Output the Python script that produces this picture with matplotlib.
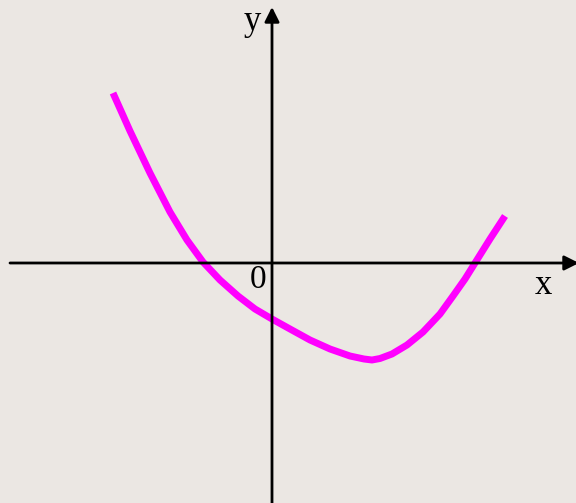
import matplotlib.pyplot as plt

# curve points (math units, origin at the axes crossing)
curve_x = [-3.18, -2.84, -2.44, -2.04, -1.70, -1.38, -1.04, -0.68, -0.34, 0.00,
           0.36, 0.76, 1.16, 1.56, 1.84, 2.00, 2.16, 2.40, 2.70, 3.02, 3.36,
           3.62, 3.86, 4.06, 4.36, 4.66]
curve_y = [3.40, 2.64, 1.80, 1.02, 0.46, 0.02, -0.34, -0.66, -0.92, -1.12,
           -1.32, -1.54, -1.72, -1.86, -1.92, -1.94, -1.91, -1.82, -1.64, -1.38, -1.02,
           -0.66, -0.32, 0.00, 0.48, 0.94]

bg = '#ebe7e3'


def main():
    fig = plt.figure(figsize=(5.76, 5.03), dpi=100, facecolor=bg)
    ax = fig.add_axes([0, 0, 1, 1])
    ax.set_facecolor(bg)
    ax.set_xlim(-5.44, 6.08)
    ax.set_ylim(-4.8, 5.26)
    ax.axis('off')

    arrow = dict(arrowstyle='-|>', lw=2, color='black', mutation_scale=22,
                 shrinkA=0, shrinkB=0)
    ax.annotate('', xy=(6.14, 0), xytext=(-5.24, 0), arrowprops=arrow,
                annotation_clip=False)
    ax.annotate('', xy=(0, 5.12), xytext=(0, -4.85), arrowprops=arrow,
                annotation_clip=False)

    ax.plot(curve_x, curve_y, color='#ff00ff', lw=5,
            solid_joinstyle='round', solid_capstyle='butt')

    font = ['Liberation Serif', 'DejaVu Serif']
    ax.text(-0.40, 4.82, 'y', fontsize=25, family=font, ha='center', va='center')
    ax.text(5.42, -0.46, 'x', fontsize=25, family=font, ha='center', va='center')
    ax.text(-0.28, -0.34, '0', fontsize=24, family=font, ha='center', va='center')

    fig.savefig('out.png', dpi=100, facecolor=bg)


if __name__ == "__main__":
    main()
